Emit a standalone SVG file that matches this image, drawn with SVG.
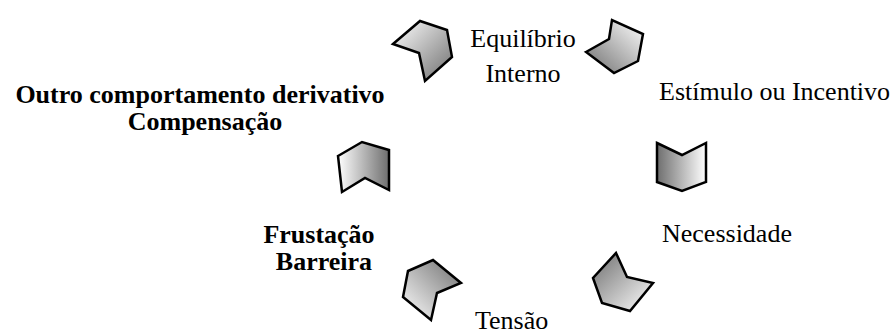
<svg xmlns="http://www.w3.org/2000/svg" width="896" height="334" viewBox="0 0 896 334">
<style>
.s{stroke:#000;stroke-width:2.5;stroke-linejoin:miter}
text{font-family:'Liberation Serif','DejaVu Serif',serif;font-size:26px;fill:#000}
.b{font-weight:bold}
</style>
<defs>
<linearGradient id="g1" x1="0" y1="0" x2="1" y2="1"><stop offset="0" stop-color="#fff"/><stop offset="1" stop-color="#6e6e6e"/></linearGradient>
<linearGradient id="g2" x1="0" y1="1" x2="1" y2="0"><stop offset="0" stop-color="#6e6e6e"/><stop offset="1" stop-color="#fff"/></linearGradient>
<linearGradient id="g3" x1="0" y1="0" x2="1" y2="0"><stop offset="0" stop-color="#6e6e6e"/><stop offset="1" stop-color="#fff"/></linearGradient>
<linearGradient id="g4" x1="0" y1="0" x2="1" y2="1"><stop offset="0" stop-color="#6e6e6e"/><stop offset="1" stop-color="#fff"/></linearGradient>
<linearGradient id="g5" x1="1" y1="0" x2="0" y2="1"><stop offset="0" stop-color="#6e6e6e"/><stop offset="1" stop-color="#fff"/></linearGradient>
<linearGradient id="g6" x1="0" y1="0" x2="1" y2="0"><stop offset="0" stop-color="#fff"/><stop offset="1" stop-color="#6e6e6e"/></linearGradient>
</defs>
<g id="connectors">
<polygon class="s" fill="url(#g1)" points="393,44 420,21 447,30 452,57 425,81 419,53"/>
<polygon class="s" fill="url(#g2)" points="586,52 609,39 612,20 643,34 638,61 614,73"/>
<polygon class="s" fill="url(#g3)" points="657,143 682,155 706,143 706,182 682,191 657,182"/>
<polygon class="s" fill="url(#g4)" points="616,253 627,277 653,283 630,311 602,303 593,278"/>
<polygon class="s" fill="url(#g5)" points="408,271 433,260 461,283 437,293 431,320 403,297"/>
<polygon class="s" fill="url(#g6)" points="338,156 362,142 389,150 389,190 365,178 342,192"/>
</g>
<g id="equilibrio"><text x="523" y="47" text-anchor="middle" font-family="Liberation Serif, serif">Equilíbrio</text><text x="523" y="82" text-anchor="middle" font-family="Liberation Serif, serif">Interno</text></g>
<g id="estimulo"><text x="659" y="100" font-family="Liberation Serif, serif">Estímulo ou Incentivo</text></g>
<g id="necessidade"><text x="662" y="242" font-family="Liberation Serif, serif">Necessidade</text></g>
<g id="tensao"><text x="475" y="329" font-family="Liberation Serif, serif">Tensão</text></g>
<g id="frustacao"><text class="b" x="319" y="243" text-anchor="middle" font-family="Liberation Serif, serif">Frustação</text><text class="b" x="324" y="270" text-anchor="middle" font-family="Liberation Serif, serif">Barreira</text></g>
<g id="outro"><text class="b" x="200" y="103" text-anchor="middle" font-family="Liberation Serif, serif">Outro comportamento derivativo</text><text class="b" x="205" y="130" text-anchor="middle" font-family="Liberation Serif, serif">Compensação</text></g>
</svg>
